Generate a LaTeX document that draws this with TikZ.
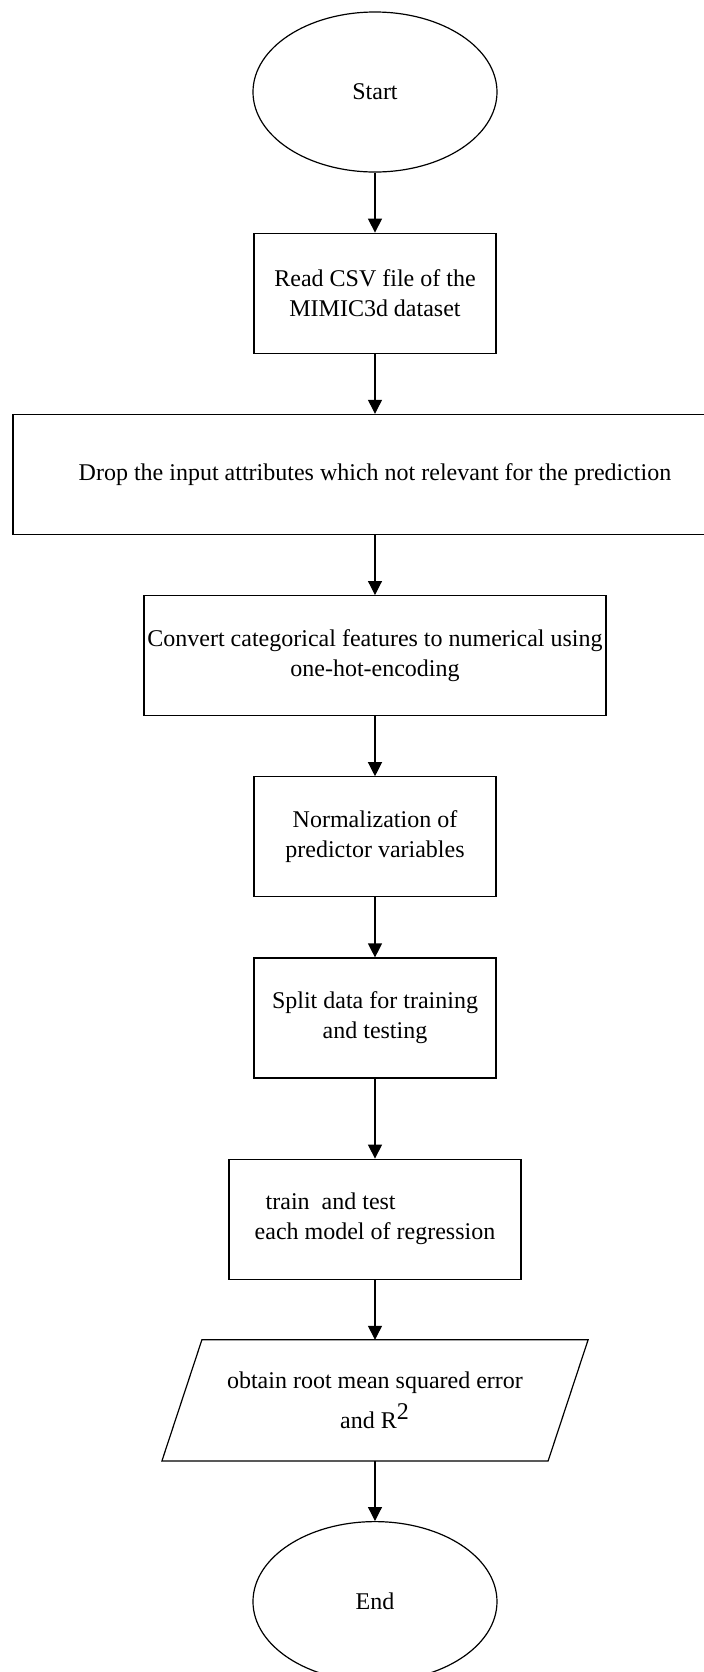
\documentclass[tikz,border=0pt]{standalone}
\usepackage{fontspec}
\setmainfont{Liberation Serif}
\usetikzlibrary{arrows.meta}
\usetikzlibrary{positioning}
\usetikzlibrary{shapes.geometric}
\tikzset{
  flownode/.style = {align=center, inner sep=0pt, text centered, draw=black,
    line width=0.6pt, font=\fontsize{12}{15}\selectfont},
  fc_term/.style = {flownode, ellipse, minimum width=122pt,
    minimum height=80pt},% debut / fin
  fc_proc/.style = {flownode, rectangle, minimum width=121pt,
    minimum height=60pt},% etape de traitement
  fc_io/.style = {flownode, rectangle, draw=none, minimum width=192.5pt,
    minimum height=60pt}% sortie, contour trace a part
}

\begin{document}
\begin{tikzpicture}[->,>={Triangle[length=7pt,width=7pt]},node distance=30pt,
  line width=0.6pt]
\useasboundingbox (-187.5pt,46pt) rectangle (164.5pt,-790pt);
\node [fc_term] (st) at (0,0) {Start};
\node [fc_proc, below=of st] (rd) {Read CSV file of the\\MIMIC3d dataset};
\node [fc_proc, below=of rd, minimum width=362pt] (dr)
  {Drop the input attributes which not relevant for the prediction};
\node [fc_proc, below=of dr, minimum width=231pt] (cv)
  {Convert categorical features to numerical using\\one-hot-encoding};
\node [fc_proc, below=of cv] (nm) {Normalization of\\predictor variables};
\node [fc_proc, below=of nm] (sp) {Split data for training\\and testing};
\node [fc_proc, below=40pt of sp, minimum width=146pt, align=left] (tt)
  {\hspace{5.5pt}train\ \ and test\\each model of regression};
\node [fc_io, below=of tt] (ob)
  {obtain root mean squared error\\[5pt]and R\textsuperscript{\large 2}};
\node [fc_term, below=of ob] (en) {End};

% parallelogramme
\draw[-] ([xshift=10pt]ob.north west) -- ([xshift=10pt]ob.north east)
  -- ([xshift=-10pt]ob.south east) -- ([xshift=-10pt]ob.south west) -- cycle;

\foreach \a/\b in {st/rd, rd/dr, dr/cv, cv/nm, nm/sp, sp/tt, tt/ob, ob/en}
  \draw (\a) -- (\b);
\end{tikzpicture}
\end{document}
